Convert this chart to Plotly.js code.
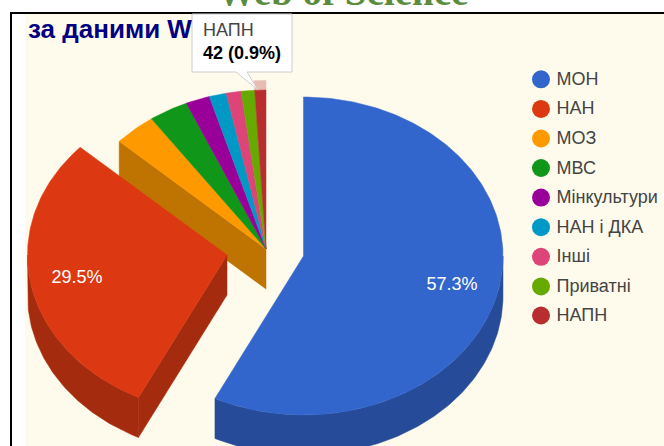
<!DOCTYPE html>
<html><head><meta charset="utf-8">
<script src="https://cdn.plot.ly/plotly-3.0.1.min.js"></script>
<style>html,body{margin:0;padding:0;background:#fff}#c{width:664px;height:446px}</style>
</head><body><div id="c"></div>
<script>
const categories = ['МОН','НАН','МОЗ','МВС','Мінкультури','НАН і ДКА','Інші','Приватні','НАПН'];
const values = [2674,1377,160,149,91,65,56,51,42];
const colors = ['#3366CC','#DC3912','#FF9900','#109618','#990099','#0099C6','#DD4477','#66AA00','#B82E2E'];
const sideColors = ['#264C99','#A52B0E','#BF7300','#0C7112','#730073','#007394','#A63359','#4C8000','#8A2222'];
const centersX = [303.5,227,266,266,266,266,266,266,266];
const centersY = [256,255,249,249,249,249,249,249,249];
const legendY = [79.3,108.9,138.5,168,197.6,227.2,256.8,286.4,315.5];
const RX = 199.5, RY = 159, DEPTH = 40, LABEL_F = 0.765;

const total = values.reduce((a,b)=>a+b,0);
const rad = d => d*Math.PI/180;
let acc = 0;
const slices = values.map((v,i)=>{const a0=acc/total*360; acc+=v; return {i,a0,a1:acc/total*360};});
const px = (s,t,r=1)=>centersX[s.i]+RX*r*Math.sin(rad(t));
const py = (s,t,r=1)=>centersY[s.i]-RY*r*Math.cos(rad(t));
const arc = (s,a,b,r=1)=>{const X=[],Y=[];const n=Math.max(2,Math.ceil(Math.abs(b-a)));
  for(let k=0;k<=n;k++){const t=a+(b-a)*k/n;X.push(px(s,t,r));Y.push(py(s,t,r));}return [X,Y];};
const poly=(x,y,color,opacity)=>({type:'scatter',mode:'lines',x,y,fill:'toself',fillcolor:color,
  line:{width:0.5,color:color},hoverinfo:'skip',showlegend:false,opacity:opacity===undefined?1:opacity});
const topFace=s=>{const [X,Y]=arc(s,s.a0,s.a1);return poly([centersX[s.i],...X,centersX[s.i]],[centersY[s.i],...Y,centersY[s.i]],colors[s.i]);};
const radialSide=(s,t)=>poly([centersX[s.i],px(s,t),px(s,t),centersX[s.i],centersX[s.i]],
  [centersY[s.i],py(s,t),py(s,t)+DEPTH,centersY[s.i]+DEPTH,centersY[s.i]],sideColors[s.i]);
const arcSide=(s,a,b)=>{const [X,Y]=arc(s,a,b);
  return poly([...X,...X.slice().reverse(),X[0]],[...Y,...Y.slice().reverse().map(v=>v+DEPTH),Y[0]],sideColors[s.i]);};

const traces=[];
traces.push(radialSide(slices[2],slices[2].a0));
for(let i=2;i<slices.length;i++) traces.push(topFace(slices[i]));
{const s=slices[8];const [X,Y]=arc(s,s.a0,s.a1,1);const [X2,Y2]=arc(s,s.a0,s.a1,1.06);
 traces.push(poly([...X,...X2.reverse(),X[0]],[...Y,...Y2.reverse(),Y[0]],colors[8],0.3));}
traces.push(radialSide(slices[1],slices[1].a0));
traces.push(arcSide(slices[1],slices[1].a0,270));
traces.push(topFace(slices[1]));
traces.push(arcSide(slices[0],90,slices[0].a1));
traces.push(topFace(slices[0]));
const labelled=[slices[0],slices[1]];
traces.push({type:'scatter',mode:'text',
  x:labelled.map(s=>px(s,(s.a0+s.a1)/2,LABEL_F)),
  y:labelled.map(s=>py(s,(s.a0+s.a1)/2,LABEL_F)+1.5),
  text:labelled.map(s=>(values[s.i]/total*100).toFixed(1)+'%'),
  textposition:'middle center',
  textfont:{family:'Liberation Sans, Arial, sans-serif',size:18,color:'#ffffff'},hoverinfo:'skip',showlegend:false});
traces.push({type:'scatter',mode:'markers',x:categories.map(()=>541),y:legendY,
  marker:{size:18,color:colors,line:{width:0}},hoverinfo:'skip',showlegend:false});
traces.push({type:'scatter',mode:'text',x:categories.map(()=>556.5),y:legendY.map(v=>v+1),text:categories,
  textposition:'middle right',textfont:{family:'Liberation Sans, Arial, sans-serif',size:18,color:'#444444'},
  hoverinfo:'skip',showlegend:false});

const layout={width:664,height:446,margin:{l:0,r:0,t:0,b:0},paper_bgcolor:'#ffffff',plot_bgcolor:'rgba(0,0,0,0)',
  showlegend:false,
  xaxis:{range:[0,664],visible:false,fixedrange:true},
  yaxis:{range:[446,0],visible:false,fixedrange:true},
  shapes:[
    {type:'rect',layer:'below',xref:'x',yref:'y',x0:25,x1:664,y0:13,y1:446,fillcolor:'#FFFBEC',line:{width:0}},
    {type:'line',layer:'below',xref:'x',yref:'y',x0:11,x1:664,y0:13,y1:13,line:{color:'#000',width:2}},
    {type:'line',layer:'below',xref:'x',yref:'y',x0:11,x1:11,y0:12,y1:446,line:{color:'#000',width:2}},
    {type:'path',layer:'above',xref:'x',yref:'y',path:'M192,14 L292,14 L292,72 L247,72 L258,90 L236,72 L192,72 Z',
     fillcolor:'#ffffff',line:{color:'#cccccc',width:1}}
  ],
  annotations:[
    {xref:'x',yref:'y',x:342,y:15,yanchor:'bottom',xanchor:'center',showarrow:false,
     text:'<b>Web of Science</b>',font:{family:'Liberation Serif, Times New Roman, serif',size:39,color:'#5B8C3E'}},
    {xref:'x',yref:'y',x:26,y:29,xanchor:'left',yanchor:'middle',showarrow:false,
     text:'<b>за даними W</b>',font:{family:'Liberation Sans, Arial, sans-serif',size:26,color:'#000080'}},
    {xref:'x',yref:'y',x:201,y:30,xanchor:'left',yanchor:'middle',showarrow:false,
     text:categories[8],font:{family:'Liberation Sans, Arial, sans-serif',size:18,color:'#444444'}},
    {xref:'x',yref:'y',x:201,y:53,xanchor:'left',yanchor:'middle',showarrow:false,
     text:'<b>'+values[8]+' ('+(values[8]/total*100).toFixed(1)+'%)</b>',font:{family:'Liberation Sans, Arial, sans-serif',size:18,color:'#000000'}}
  ]};
Plotly.newPlot('c',traces,layout,{displayModeBar:false,staticPlot:true});
</script></body></html>
